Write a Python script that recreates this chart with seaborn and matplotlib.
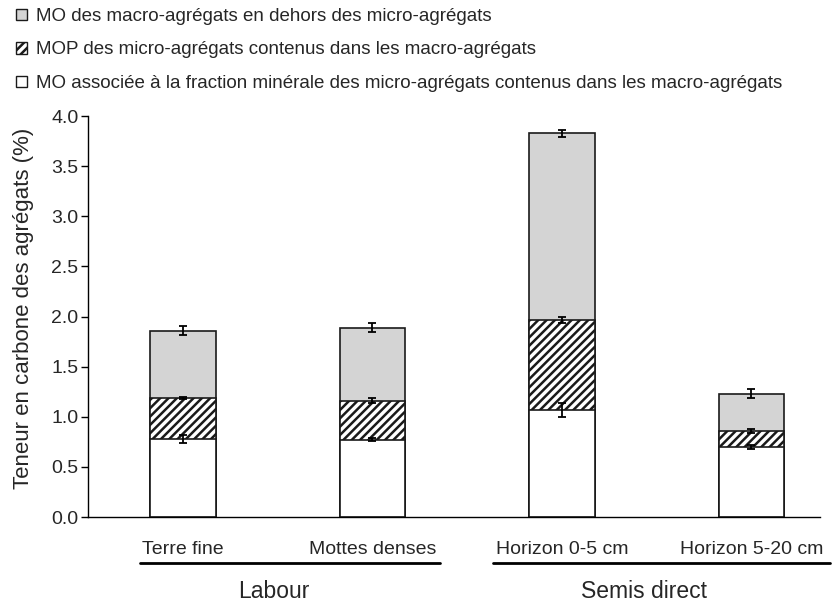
import matplotlib
matplotlib.use("Agg")
import matplotlib.pyplot as plt
import seaborn as sns
import pandas as pd
from matplotlib.patches import Patch
from matplotlib.lines import Line2D

# ---- data ----
categories = ["Terre fine", "Mottes denses", "Horizon 0-5 cm", "Horizon 5-20 cm"]
groups = ["Labour", "Semis direct"]
mo_minerale = [0.78, 0.77, 1.07, 0.70]      # white
mop_micro = [0.41, 0.39, 0.90, 0.16]        # hatched
mo_macro = [0.67, 0.73, 1.86, 0.37]         # grey
err_minerale = [0.04, 0.015, 0.07, 0.02]
err_mop = [0.01, 0.025, 0.03, 0.02]
err_macro = [0.045, 0.045, 0.035, 0.045]
legend_labels = [
    "MO des macro-agrégats en dehors des micro-agrégats",
    "MOP des micro-agrégats contenus dans les macro-agrégats",
    "MO associée à la fraction minérale des micro-agrégats contenus dans les macro-agrégats",
]

sns.set_style("white")
plt.rcParams["font.family"] = ["Liberation Sans", "DejaVu Sans"]
plt.rcParams["hatch.linewidth"] = 1.8

df = pd.DataFrame({"cat": categories, "white": mo_minerale, "mop": mop_micro, "macro": mo_macro})
df["lvl1"] = df["white"]
df["lvl2"] = df["white"] + df["mop"]
df["lvl3"] = df["lvl2"] + df["macro"]

fig = plt.figure(figsize=(8.37, 6.01), dpi=100)
ax = fig.add_axes([88 / 837, 84 / 601, 732 / 837, 401 / 601])

edge = "#1a1a1a"
sns.barplot(data=df, x="cat", y="lvl3", order=categories, color="#d4d4d4", edgecolor=edge,
            linewidth=1.2, width=0.345, ax=ax, saturation=1)
sns.barplot(data=df, x="cat", y="lvl2", order=categories, color="white", edgecolor=edge,
            linewidth=1.2, width=0.345, ax=ax, saturation=1, hatch="////")
sns.barplot(data=df, x="cat", y="lvl1", order=categories, color="white", edgecolor=edge,
            linewidth=1.2, width=0.345, ax=ax, saturation=1)

xs = list(range(len(categories)))
for col, err in [("lvl1", err_minerale), ("lvl2", err_mop), ("lvl3", err_macro)]:
    ax.errorbar(xs, df[col], yerr=err, fmt="none", ecolor="black", elinewidth=1.3,
                capsize=2.8, capthick=1.3, zorder=5)

ax.set_xlim(-0.501, 3.362)
ax.set_ylim(0, 4.0)
ticks = [0, 0.5, 1.0, 1.5, 2.0, 2.5, 3.0, 3.5, 4.0]
ax.set_yticks(ticks)
ax.set_yticklabels([f"{v:.1f}" for v in ticks])
ax.tick_params(axis="y", direction="out", length=5, width=1, color="black", labelsize=14, pad=2, left=True)
ax.tick_params(axis="x", length=0, labelsize=14, pad=17.5)
ax.set_xlabel("")
ax.set_ylabel("Teneur en carbone des agrégats (%)", fontsize=16)
ax.yaxis.set_label_coords((34 - 88) / 732, (517 - 308.5) / 401)
for s in ["top", "right"]:
    ax.spines[s].set_visible(False)
for s in ["left", "bottom"]:
    ax.spines[s].set_color("black")
    ax.spines[s].set_linewidth(1.0)

# group lines and labels
W, H = 837, 601
for (x0, x1, xc), g in zip([(140, 440, 274), (493, 830, 644)], groups):
    fig.add_artist(Line2D([x0 / W, x1 / W], [(H - 563) / H] * 2, color="black", lw=2,
                          transform=fig.transFigure))
    fig.text(xc / W, (H - 591) / H, g, ha="center", va="center", fontsize=16.5)

handles = [
    Patch(facecolor="#d4d4d4", edgecolor=edge, linewidth=1),
    Patch(facecolor="white", edgecolor=edge, hatch="////", linewidth=1),
    Patch(facecolor="white", edgecolor=edge, linewidth=1),
]
fig.legend(handles, legend_labels, loc="upper left", bbox_to_anchor=(16 / W, 1 - 8 / H),
           frameon=False, fontsize=13.5, handlelength=0.58, handleheight=0.58,
           handletextpad=0.5, labelspacing=0.88, borderaxespad=0, borderpad=0)

fig.savefig("out.png", dpi=100)
